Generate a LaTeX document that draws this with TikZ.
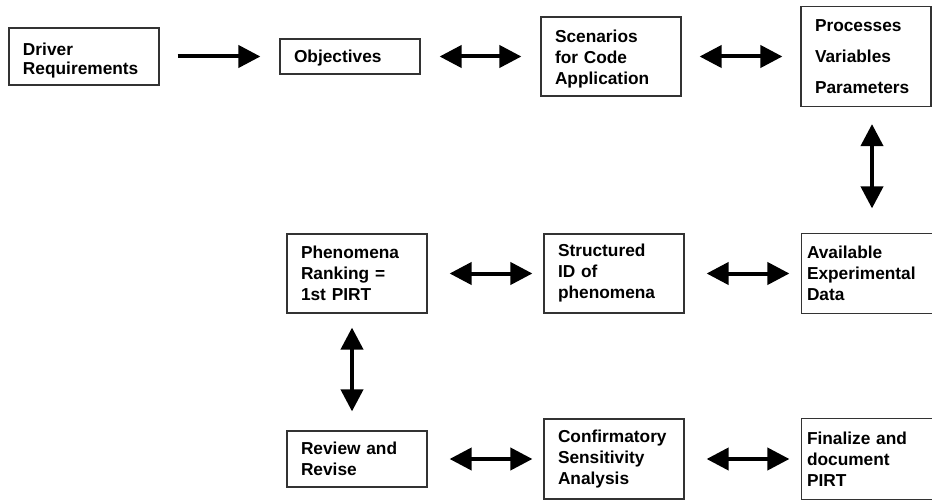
\documentclass[tikz,border=0pt]{standalone}
\usepackage{fontspec}
\setmainfont{Liberation Sans}
\usetikzlibrary{arrows.meta}
\begin{document}
\begin{tikzpicture}[x=1pt,y=-1pt,
  frame/.style={draw=black!80, line width=1.2pt},
  box/.style={frame, rectangle, align=left,
    font=\bfseries\fontsize{17.3}{21}\selectfont, inner ysep=0pt,
    inner xsep=14pt, text width=#1-28pt},
  box/.default=140pt,
  edgebox/.style={box, draw=none, inner xsep=5pt, text width=130pt},
  % push the text block down inside its box by about #1
  lowered/.style={execute at begin node={\rule{0pt}{\dimexpr 0.72em+2\dimexpr#1\relax\relax}}},
  conn/.style={line width=4pt, -{Triangle[length=22pt,width=22pt]}},
  dconn/.style={line width=4pt, {Triangle[length=22pt,width=22pt]}-{Triangle[length=22pt,width=22pt]}}]
\useasboundingbox (0,0) rectangle (932,500);

% top row
\node[box=150pt, minimum height=57pt, lowered=4.5pt] (drv) at (84,56.5) {Driver\\[-2pt]Requirements};
\node[box, minimum height=35pt, lowered=1.5pt] (obj) at (350,56.5) {Objectives};
\node[box, minimum height=79pt, lowered=3pt] (scn) at (611,56.5) {Scenarios\\for Code\\Application};
\node[box=130pt, minimum height=100pt] (prc) at (866,56.5)
  {Processes\\[10pt]Variables\\[10pt]Parameters};

% middle row
\node[box, minimum height=79pt] (phe) at (357,273.5) {Phenomena\\Ranking =\\1st PIRT};
\node[box, minimum height=79pt] (str) at (614,273.5) {Structured\\ID of\\phenomena};
\node[edgebox, minimum height=79pt] (ava) at (872,273.5) {Available\\Experimental\\Data};

% bottom row
\node[box, minimum height=56pt] (rev) at (357,459) {Review and\\Revise};
\node[box, minimum height=80pt] (cnf) at (614,459) {Confirmatory\\Sensitivity\\Analysis};
\node[edgebox, minimum height=80pt] (fin) at (872,459) {Finalize and\\document\\PIRT};

% boxes running off the right margin: only three sides are seen
\foreach \b in {ava,fin}
  \draw[frame] (\b.north -| 933,0) -- (\b.north west) -- (\b.south west) -- (\b.south -| 933,0);

% connectors
\draw[conn, shorten <=18pt, shorten >=19pt] (drv.east) -- (obj.west);
\draw[dconn, shorten <=19pt, shorten >=19pt] (obj.east) -- (scn.west);
\draw[dconn, shorten <=18pt, shorten >=18pt] (scn.east) -- (prc.west);
\draw[dconn, shorten <=17pt, shorten >=25pt] (prc.south -| ava.north) -- (ava.north);
\draw[dconn, shorten <=22pt, shorten >=11pt] (phe.east) -- (str.west);
\draw[dconn, shorten <=22pt, shorten >=12pt] (str.east) -- (ava.west);
\draw[dconn, shorten <=14pt, shorten >=19pt] ([xshift=-5pt]phe.south) -- ([xshift=-5pt]rev.north);
\draw[dconn, shorten <=22pt, shorten >=11pt] (rev.east) -- (cnf.west);
\draw[dconn, shorten <=22pt, shorten >=12pt] (cnf.east) -- (fin.west);
\end{tikzpicture}
\end{document}
